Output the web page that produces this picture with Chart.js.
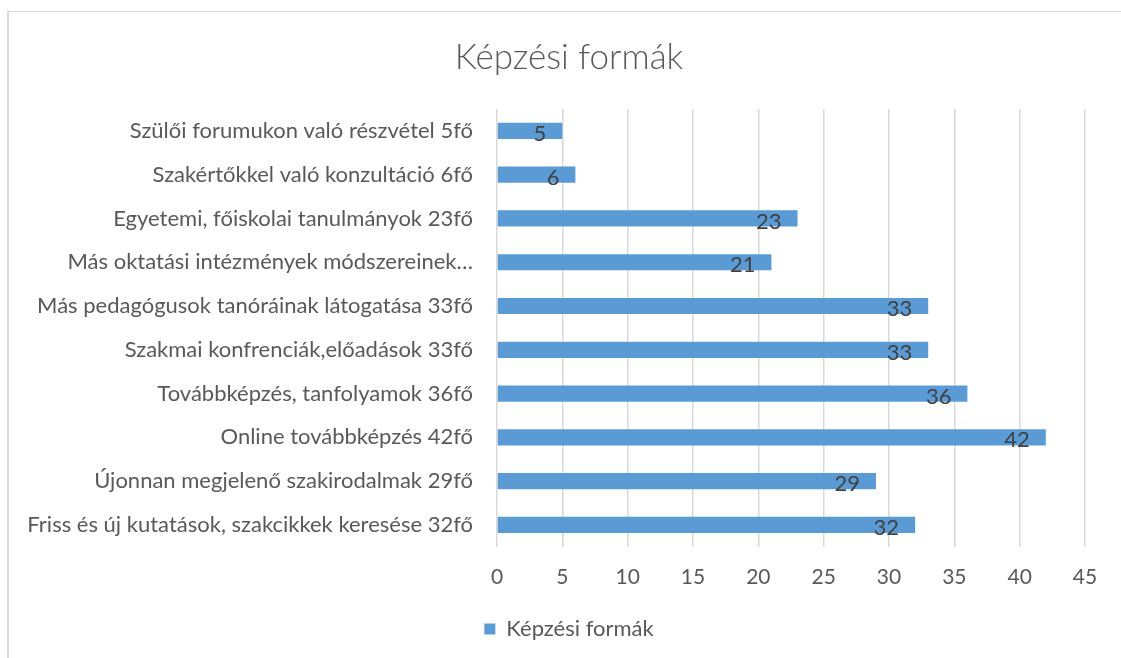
<!DOCTYPE html>
<html lang="hu">
<head>
<meta charset="UTF-8">
<title>Képzési formák</title>
<script src="https://cdn.jsdelivr.net/npm/chart.js"></script>
<style>
    html, body {
        margin: 0;
        padding: 0;
        background: #ffffff;
        overflow: hidden;
    }
    .keret {
        position: absolute;
        left: 7px;
        top: 11px;
        width: 1200px;
        height: 700px;
        border-top: 1px solid #d9d9d9;
        border-left: 2px solid #d9d9d9;
    }
    .grafikon {
        position: absolute;
        left: 0;
        top: 0;
        width: 1131px;
        height: 658px;
    }
</style>
</head>
<body>
<div class="keret"></div>
<div class="grafikon">
    <!-- a diagram jobb széle kilóg az ablakból, ahogy az eredetin is -->
    <canvas id="kepzesChart" width="1131" height="658"></canvas>
</div>
<script>
// adatok (fentről lefelé)
const kategoriak = [
    'Szülői forumukon való részvétel 5fő',
    'Szakértőkkel való konzultáció 6fő',
    'Egyetemi, főiskolai tanulmányok 23fő',
    'Más oktatási intézmények módszereinek…',
    'Más pedagógusok tanóráinak látogatása 33fő',
    'Szakmai konfrenciák,előadások 33fő',
    'Továbbképzés, tanfolyamok 36fő',
    'Online továbbképzés 42fő',
    'Újonnan megjelenő szakirodalmak 29fő',
    'Friss és új kutatások, szakcikkek keresése 32fő'
];
const ertekek = [5, 6, 23, 21, 33, 33, 36, 42, 29, 32];
const sorozatNev = 'Képzési formák';
const xMax = 45;
const xLepes = 5;

const betu = 'Lato, "Open Sans", sans-serif';
const szurke = '#595959';

// értékek kiírása a sávok végére
const ertekCimkek = {
    id: 'ertekCimkek',
    afterDatasetsDraw(chart) {
        const ctx = chart.ctx;
        const meta = chart.getDatasetMeta(0);
        ctx.save();
        ctx.font = '22px ' + betu;
        ctx.fillStyle = '#404040';
        ctx.textAlign = 'right';
        ctx.textBaseline = 'middle';
        meta.data.forEach((bar, i) => {
            ctx.fillText(String(ertekek[i]), bar.x - 16, bar.y + 3);
        });
        ctx.restore();
    }
};

new Chart(document.getElementById('kepzesChart'), {
    type: 'bar',
    data: {
        labels: kategoriak,
        datasets: [{
            label: sorozatNev,
            data: ertekek,
            backgroundColor: '#5b9bd5',
            borderWidth: 0,
            categoryPercentage: 1,
            barPercentage: 0.37
        }]
    },
    options: {
        indexAxis: 'y',
        responsive: false,
        animation: false,
        devicePixelRatio: 1,
        layout: {
            padding: { left: 7, right: 0, top: 11, bottom: 8 }
        },
        plugins: {
            title: {
                display: true,
                text: 'Képzési formák',
                color: szurke,
                font: { family: betu, size: 35, weight: '300' },
                padding: { top: 26, bottom: 30 }
            },
            legend: {
                position: 'bottom',
                labels: {
                    color: szurke,
                    font: { family: betu, size: 22 },
                    boxWidth: 11,
                    boxHeight: 11,
                    padding: 10
                }
            },
            tooltip: { enabled: false }
        },
        scales: {
            x: {
                min: 0,
                max: xMax,
                ticks: {
                    stepSize: xLepes,
                    color: szurke,
                    font: { family: betu, size: 21 },
                    padding: 18
                },
                grid: {
                    color: '#d9d9d9',
                    lineWidth: 1.5,
                    drawTicks: false
                },
                border: { display: false }
            },
            y: {
                afterFit(scale) {
                    scale.width = 490;
                },
                ticks: {
                    color: szurke,
                    font: { family: betu, size: 22 },
                    padding: 16
                },
                grid: { display: false },
                border: { display: false }
            },
            // üres jobb oldali sáv, hogy a cím és a jelmagyarázat középen legyen
            jobbTer: {
                type: 'linear',
                position: 'right',
                axis: 'y',
                afterFit(scale) {
                    scale.width = 46;
                },
                ticks: { display: false },
                grid: { display: false },
                border: { display: false }
            }
        }
    },
    plugins: [ertekCimkek]
});
</script>
</body>
</html>
